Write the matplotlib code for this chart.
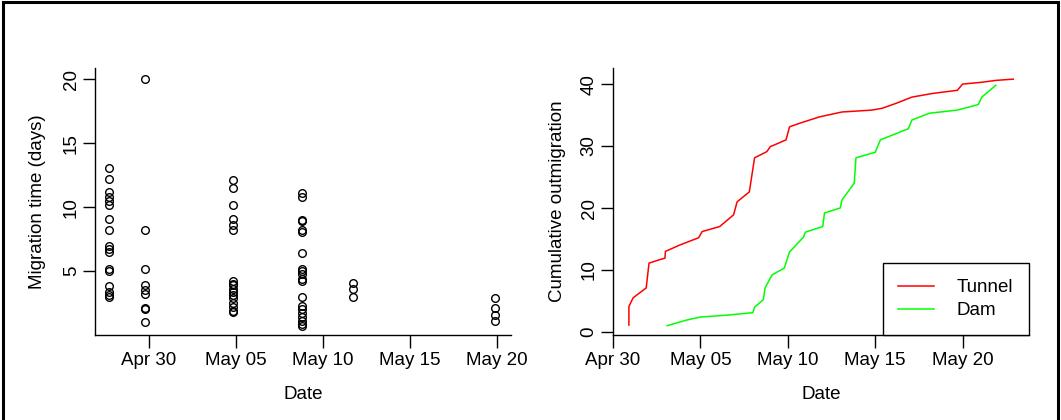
import numpy as np
import pandas as pd
import matplotlib
matplotlib.use("Agg")
import matplotlib.pyplot as plt
import matplotlib.dates as mdates
from matplotlib.patches import Rectangle

plt.rcParams['font.family'] = ['Liberation Sans', 'DejaVu Sans']
plt.rcParams['font.size'] = 13.5

BASE = pd.Timestamp('2012-04-30')

# left panel: exit date (days after Apr 30) and migration times at that date
col_days = [-2.3, -0.2, 4.8, 8.8, 11.7, 19.9]
col_times = [
    [13.1, 12.2, 11.2, 10.8, 10.5, 10.2, 9.1, 8.2, 7.0, 6.7, 6.5, 5.2, 5.0, 3.8, 3.4, 3.1, 3.0],
    [20.0, 8.2, 5.2, 3.9, 3.5, 3.2, 2.1, 2.0, 1.0],
    [12.1, 11.5, 10.2, 9.1, 8.6, 8.2, 4.2, 4.0, 3.9, 3.6, 3.4, 3.1, 2.9, 2.5, 2.2, 1.9, 1.8],
    [11.1, 10.8, 9.0, 8.9, 8.2, 8.1, 6.4, 5.2, 5.0, 4.8, 4.4, 4.2, 3.0, 2.3, 2.0, 1.7, 1.4, 1.1, 0.9, 0.7],
    [4.1, 3.6, 3.0],
    [2.9, 2.1, 1.6, 1.1],
]

# right panel: cumulative outmigration (days after Apr 30, count)
tunnel_day = [0.91, 0.91, 1.15, 1.9, 2.06, 2.6, 2.97, 3.0, 3.8, 4.9, 5.1, 6.1, 6.9, 7.1, 7.8, 8.1,
              8.8, 9.0, 9.9, 10.1, 10.7, 11.8, 13.1, 14.8, 15.4, 16.2, 17.1, 18.3, 19.7, 20.0,
              21.1, 21.9, 22.9]
tunnel_n = [1.1, 4.1, 5.5, 7.1, 11.1, 11.6, 11.9, 13.0, 14.0, 15.2, 16.2, 17.0, 18.9, 21.0, 22.6, 28.1,
            29.1, 29.9, 31.0, 33.1, 33.7, 34.7, 35.5, 35.8, 36.1, 36.9, 37.9, 38.5, 39.0, 40.0,
            40.3, 40.6, 40.8]
dam_day = [3.1, 4.2, 5.0, 6.5, 8.0, 8.1, 8.6, 8.7, 9.1, 9.8, 10.1, 10.9, 11.0, 12.0, 12.1, 13.0,
           13.1, 13.8, 13.9, 15.0, 15.3, 16.9, 17.1, 18.1, 19.7, 20.9, 21.1, 21.9]
dam_n = [1.0, 1.9, 2.4, 2.7, 3.1, 4.0, 5.2, 7.1, 9.2, 10.3, 12.9, 15.3, 16.1, 17.0, 19.2, 20.0,
         21.3, 24.0, 28.1, 29.0, 31.0, 32.8, 34.2, 35.3, 35.8, 36.7, 37.9, 39.8]

tick_days = [0, 5, 10, 15, 20]


def to_dates(days):
    return BASE + pd.to_timedelta(np.asarray(days, dtype=float), unit='D')


def style_axis(ax):
    ax.spines['top'].set_visible(False)
    ax.spines['right'].set_visible(False)
    for s in ('left', 'bottom'):
        ax.spines[s].set_linewidth(1.0)
    ax.tick_params(direction='out', length=9, width=1.0)
    ax.tick_params(axis='x', pad=3)
    ax.tick_params(axis='y', pad=2)
    ax.set_xticks(to_dates(tick_days))
    ax.xaxis.set_major_formatter(mdates.DateFormatter('%b %d'))
    for lab in ax.get_yticklabels():
        lab.set_rotation(90)
        lab.set_va('center')


fig = plt.figure(figsize=(10.61, 4.20), dpi=100)
ax1 = fig.add_axes([95 / 1061, 1 - 335 / 420, 416 / 1061, 267 / 420])
ax2 = fig.add_axes([613 / 1061, 1 - 335 / 420, 416 / 1061, 267 / 420])

# left: migration time scatter
xs = []
ys = []
for d, vals in zip(col_days, col_times):
    xs += [d] * len(vals)
    ys += vals
ax1.plot(to_dates(xs), ys, 'o', mfc='none', mec='black', ms=5.5, mew=1.0)
ax1.set_xlim(to_dates([-3.1, 20.8]))
ax1.set_ylim(0.0, 20.9)
ax1.set_yticks([5, 10, 15, 20])
style_axis(ax1)
ax1.set_ylabel('Migration time (days)')
ax1.yaxis.set_label_coords(-0.118, 0.5)
ax1.set_xlabel('Date')
ax1.xaxis.set_label_coords(0.5, -0.19)

# right: cumulative outmigration
ax2.plot(to_dates(tunnel_day), tunnel_n, color='#ff0000', lw=1.1, label='Tunnel')
ax2.plot(to_dates(dam_day), dam_n, color='#00ff00', lw=1.1, label='Dam')
ax2.set_xlim(to_dates([0.0, 23.8]))
ax2.set_ylim(-0.5, 42.6)
ax2.set_yticks([0, 10, 20, 30, 40])
style_axis(ax2)
ax2.set_ylabel('Cumulative outmigration')
ax2.yaxis.set_label_coords(-0.114, 0.5)
ax2.set_xlabel('Date')
ax2.xaxis.set_label_coords(0.5, -0.19)
leg = ax2.legend(loc='lower right', borderaxespad=0, fancybox=False, framealpha=1,
                 edgecolor='black', handlelength=1.9, handletextpad=1.2,
                 borderpad=0.85, labelspacing=0.3, fontsize=13.5)
leg.get_frame().set_linewidth(1.0)

# outer frame
fig.add_artist(Rectangle((2.5 / 1061, -0.02), 1 - 6 / 1061, 1.02 - 2 / 420,
                         transform=fig.transFigure, fill=False,
                         edgecolor='black', lw=2.2))

fig.savefig('out.png', dpi=100)
